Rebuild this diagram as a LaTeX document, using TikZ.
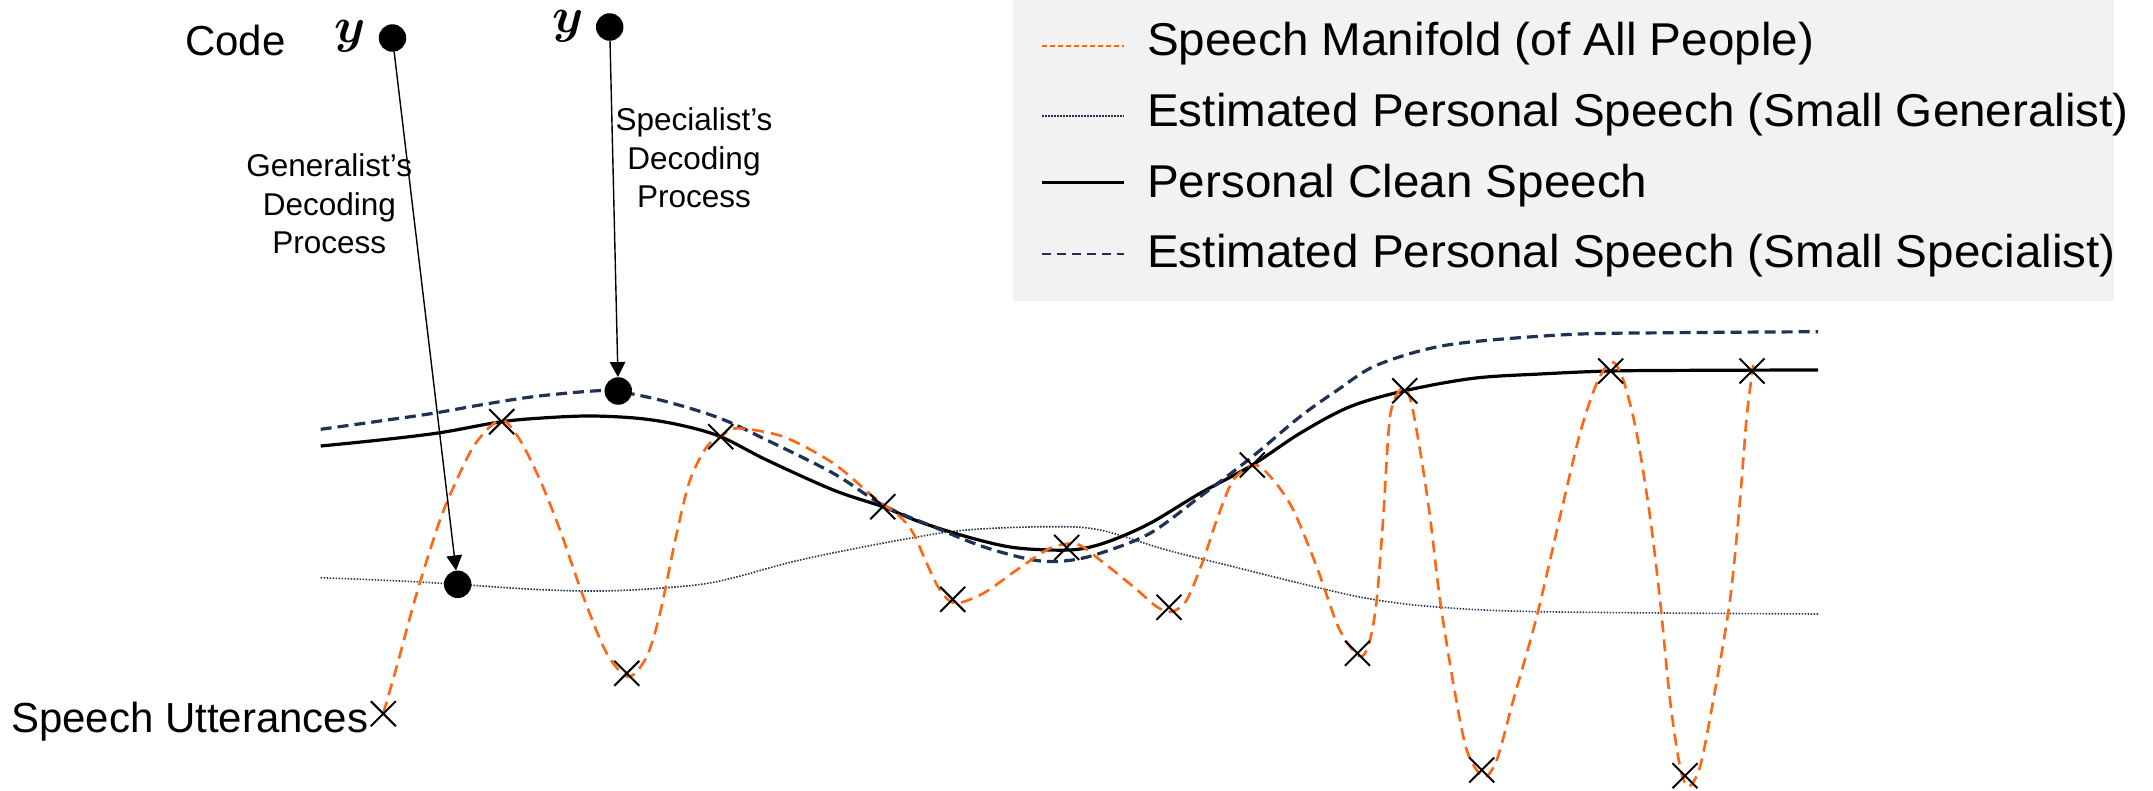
\documentclass[tikz,border=0pt]{standalone}
\usepackage{amsmath}
\usepackage{bm}
\usepackage{graphicx}
\usepackage{fontspec}
\setmainfont{Liberation Sans}
\newfontfamily\legendfont[FakeStretch=1.035]{Liberation Sans}
\usetikzlibrary{arrows.meta,shapes.misc}

\definecolor{manifold}{RGB}{255,102,17}
\definecolor{navy}{RGB}{31,50,84}
\definecolor{legendbg}{RGB}{242,242,242}

\newcommand{\codesym}{\scalebox{2}{\fontsize{24.88}{30}\selectfont$\bm{y}$}}

\tikzset{
  codedot/.style={circle, fill=black, inner sep=0pt, minimum size=27.5pt},
  utter/.style={draw=black, cross out, line width=2pt, inner sep=0pt, minimum size=23pt},
  decode/.style={draw=black, line width=1.4pt, -{Triangle[length=15pt,width=15.5pt]}},
  manifoldline/.style={draw=manifold, line width=2.6pt, dash pattern=on 12pt off 7pt},
  cleanline/.style={draw=black, line width=3.2pt},
  specline/.style={draw=navy, line width=3.2pt, dash pattern=on 11pt off 6pt},
  genline/.style={draw=navy, line width=1.6pt, dash pattern=on 1.5pt off 1.5pt},
  plainlbl/.style={inner sep=0pt, font=\fontsize{42}{50}\selectfont},
  steplbl/.style={inner sep=0pt, align=center, font=\fontsize{31.5}{38.3}\selectfont},
  mathlbl/.style={inner sep=0pt},
  legendlbl/.style={inner sep=0pt, anchor=base west, font=\legendfont\fontsize{46}{55}\selectfont},
}

\begin{document}
\begin{tikzpicture}[x=1pt, y=-1pt]
\useasboundingbox (0,0) rectangle (2153,790);

% legend panel
\fill[legendbg] (1013,0) rectangle (2114,300.7);
\draw[draw=manifold, line width=2pt, dash pattern=on 5pt off 3pt] (1042,45.7) -- (1123.5,45.7);
\draw[genline, line width=1.4pt] (1042,116) -- (1123.5,116);
\draw[cleanline, line width=2.6pt] (1042,182.7) -- (1123.5,182.7);
\draw[specline, line width=2.4pt, dash pattern=on 9pt off 6pt] (1042,254) -- (1123.5,254);
\node[legendlbl] (leg1) at (1147,55) {Speech Manifold (of All People)};
\node[legendlbl] (leg2) at (1147,126) {Estimated Personal Speech (Small Generalist)};
\node[legendlbl] (leg3) at (1147,197) {Personal Clean Speech};
\node[legendlbl] (leg4) at (1147,267) {Estimated Personal Speech (Small Specialist)};

% estimated personal speech, small generalist
\draw[genline] plot[smooth, tension=0.55] coordinates {
  (320.7,577.7) (400,581) (457.7,584.3) (533.3,589.3) (600,591) (666.7,587.7)
  (720,581) (800,560) (900,540) (966.7,530) (1050,526.7) (1100,530)
  (1166.7,550) (1233.3,566.7) (1300,583.3) (1366.7,598.3) (1433.3,606.7)
  (1540,611.7) (1818,614)};

% personal clean speech
\draw[cleanline] plot[smooth, tension=0.55] coordinates {
  (320.7,446) (380,440) (440,432.7) (501.7,421.7) (550,417.5) (593,416)
  (640,418.5) (680,425) (720.7,436.7) (766.7,460) (833.3,490) (882.7,506.7)
  (920,522) (966.7,536.7) (1010,547) (1050,550) (1080,549) (1110,541)
  (1150,523.3) (1200,493.3) (1252.3,465) (1300,433.3) (1350,406.7)
  (1405,390.7) (1473.3,378.3) (1540,374) (1610.7,371) (1700,370.3) (1818,370)};

% estimated personal speech, small specialist
\draw[specline] plot[smooth, tension=0.55] coordinates {
  (320.7,429.3) (380,421) (433.3,413.3) (480,405) (533.3,396.7) (593,391)
  (618.3,391.5) (666.7,401.7) (720,418.3) (766.7,440) (833.3,473.3)
  (882.7,505) (933.3,526.7) (983.3,546.7) (1033.3,560) (1066.7,560.7)
  (1100,553.3) (1150,533.3) (1200,496.7) (1252.3,456.7) (1300,416.7)
  (1340,388.3) (1373.3,366.7) (1423.3,350) (1473.3,341.7) (1573.3,334.3)
  (1673.3,332.7) (1818,331.7)};

% speech manifold of all people
\draw[manifoldline] plot[smooth, tension=0.5] coordinates {
  (383.3,713.3) (396.7,666.7) (416.7,593.3) (440,520) (456.7,480) (473.3,446.7)
  (490,426.7) (503.3,420) (520,440) (540,480) (560,530) (583.3,596.7)
  (606.7,653.3) (628.3,676.7) (646.7,656.7) (660,613.3) (676.7,533.3)
  (690,480) (706.7,446.7) (720.7,436.7) (736.7,428.3) (783.3,436.7)
  (833.3,463.3) (873.3,496.7) (900,516.7) (913.3,533.3) (926.7,563.3)
  (940,590) (955,603.3) (983.3,593.3) (1016.7,570) (1050,548.3)
  (1076.7,544) (1100,560) (1133.3,586.7) (1156.7,606.7) (1171.7,611.7)
  (1186.7,600) (1203.3,560) (1216.7,520) (1233.3,480) (1255,465)
  (1273.3,480) (1293.3,510) (1316.7,566.7) (1336.7,623.3) (1350,646.7)
  (1361.7,656.7) (1370,640) (1376.7,600) (1383.3,516.7) (1390,416.7)
  (1401,389) (1410,398) (1420,450) (1430,516.7) (1440,600) (1453.3,683.3)
  (1466.7,750) (1483.3,776.7) (1496.7,760) (1513.3,700) (1536.7,616.7)
  (1560,516.7) (1580,433.3) (1596.7,383.3) (1611.7,361.7) (1623.3,380)
  (1636.7,433.3) (1650,516.7) (1660,600) (1670,700) (1680,766.7)
  (1688.3,786.7) (1700,766.7) (1713.3,700) (1730,600) (1740,500)
  (1746.7,416.7) (1753.3,365)};

% speech utterances
\node[utter] (u1) at (383.3,713.7) {};
\node[utter] (u2) at (501.7,421.7) {};
\node[utter] (u3) at (626.8,673.3) {};
\node[utter] (u4) at (720.7,436.7) {};
\node[utter] (u5) at (882.7,506.7) {};
\node[utter] (u6) at (952.7,599.3) {};
\node[utter] (u7) at (1066.7,547.5) {};
\node[utter] (u8) at (1169,607.3) {};
\node[utter] (u9) at (1252.3,465) {};
\node[utter] (u10) at (1357.5,653.3) {};
\node[utter] (u11) at (1404.7,390.8) {};
\node[utter] (u12) at (1481.7,770) {};
\node[utter] (u13) at (1610.7,371) {};
\node[utter] (u14) at (1685,775.7) {};
\node[utter] (u15) at (1752,371) {};

% codes and decoded points
\node[codedot] (ygen) at (392.5,38) {};
\node[codedot] (yspec) at (609.7,27) {};
\node[codedot] (gdot) at (457.7,584.3) {};
\node[codedot] (sdot) at (618.3,391) {};
\draw[decode] (ygen) -- (gdot);
\draw[decode] (yspec) -- (sdot);

% labels
\node[plainlbl, anchor=base west] (code) at (185,55) {Code};
\node[mathlbl, anchor=base] (ylab1) at (350.5,42.5) {\codesym};
\node[mathlbl, anchor=base] (ylab2) at (568.5,32) {\codesym};
\node[steplbl, anchor=base] (genlbl) at (329.3,253.3) {Generalist’s\\Decoding\\Process};
\node[steplbl, anchor=base] (speclbl) at (694,207.3) {Specialist’s\\Decoding\\Process};
\node[plainlbl, anchor=base west] (utterlbl) at (11,732.7) {Speech Utterances};
\end{tikzpicture}
\end{document}
